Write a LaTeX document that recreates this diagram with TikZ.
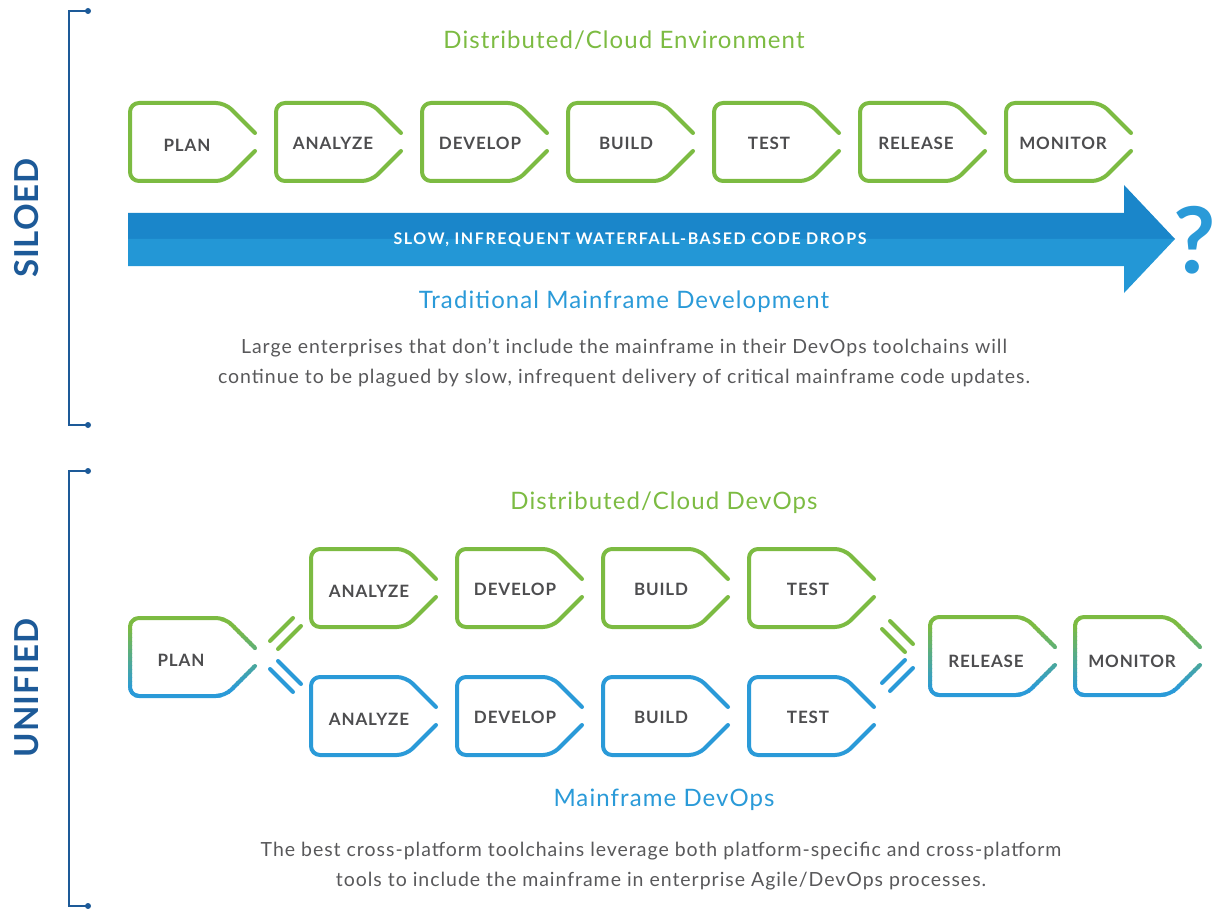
\documentclass[tikz,border=0pt]{standalone}
\usepackage{fontspec}
\setmainfont{Lato}
\newfontfamily\headfont[LetterSpace=4.5]{Lato}
\newfontfamily\parafont[LetterSpace=5]{Lato}
\newfontfamily\lblfont[LetterSpace=5]{Lato}
\newfontfamily\arrfont[LetterSpace=10]{Lato}
\newfontfamily\sidefont[LetterSpace=3]{Lato}
\definecolor{grn}{HTML}{7CBB42}
\definecolor{blu}{HTML}{2A9AD8}
\definecolor{arrdark}{HTML}{1A86CA}
\definecolor{arrlight}{HTML}{2397D6}
\definecolor{navy}{HTML}{1D5A98}
\definecolor{lblgray}{HTML}{4D4D4F}
\definecolor{txtgray}{HTML}{58585A}
\begin{document}
\begin{tikzpicture}[x=1pt,y=-1pt,
  tagpath/.style={line width=4pt, line cap=round, line join=round, rounded corners=9pt},
  pics/tag/.style={code={\draw[tagpath,draw=#1] (125,30) -- (95,0) -- (0,0) -- (0,78) -- (95,78) -- (125,48);}},
  pics/gtag/.style={code={
    \foreach \i in {0,...,21}{
      \pgfmathtruncatemacro\p{max(0,min(100,(72-(-5+\i*4+2))/62*100))}
      \begin{scope}
        \clip (-6,{-5+\i*4}) rectangle (136,{-5+(\i+1)*4+0.4});
        \draw[tagpath,draw=grn!\p!blu] (125,30) -- (95,0) -- (0,0) -- (0,78) -- (95,78) -- (125,48);
      \end{scope}}
  }},
  lbl/.style={text=lblgray, font=\lblfont\fontsize{17}{20}\selectfont\bfseries},
  head/.style={font=\headfont\fontsize{24}{28}\selectfont},
  para/.style={text=txtgray, font=\parafont\fontsize{19.5}{30}\selectfont, align=center},
  link/.style={line width=4pt, line cap=round},
  brk/.style={navy, line width=1.6pt},
  side/.style={text=navy, font=\sidefont\fontsize{33}{36}\selectfont\bfseries, rotate=90}
]
\useasboundingbox (0,0) rectangle (1214,909);

% brackets
\coordinate (b1a) at (88,11); \coordinate (b1b) at (88,425);
\coordinate (b2a) at (88,471); \coordinate (b2b) at (88,906);
\draw[brk] (b1a) -- (69,11) -- (69,425) -- (b1b);
\draw[brk] (b2a) -- (69,471) -- (69,906) -- (b2b);
\foreach \c in {b1a,b1b,b2a,b2b} \fill[navy] (\c) circle (3);
\node[side] (siloed) at (27,218) {SILOED};
\node[side] (unified) at (27,688) {UNIFIED};

% ---- top section
\node[head, text=grn] (envtitle) at (624,40) {Distributed/Cloud Environment};
\foreach \k in {0,...,6} \pic at ({130+146*\k},103) {tag=grn};
\node[lbl] (t1) at (187,145) {PLAN};
\node[lbl] (t2) at (333,143) {ANALYZE};
\node[lbl] (t3) at (480,143) {DEVELOP};
\node[lbl] (t4) at (626,143) {BUILD};
\node[lbl] (t5) at (769,143) {TEST};
\node[lbl] (t6) at (916,143) {RELEASE};
\node[lbl] (t7) at (1063,143) {MONITOR};

% arrow
\fill[arrdark] (128,213) -- (1124,213) -- (1124,185) -- (1175,239) -- (128,239) -- cycle;
\fill[arrlight] (128,239) -- (1175,239) -- (1124,293) -- (1124,266) -- (128,266) -- cycle;
\node[text=white, font=\arrfont\fontsize{16}{18}\selectfont\bfseries] (arrtxt) at (630,240) {SLOW, INFREQUENT WATERFALL-BASED CODE DROPS};
\node[text=blu, inner sep=0pt, font=\fontsize{92}{94}\selectfont\bfseries] (qm) at (1195,240) {?};

\node[head, text=blu] (tradtitle) at (624,302) {Traditional Mainframe Development};
\node[para] (para1) at (624,363) {Large enterprises that don’t include the mainframe in their DevOps toolchains will\\continue to be plagued by slow, infrequent delivery of critical mainframe code updates.};

% ---- bottom section
\node[head, text=grn] (devtitle) at (664,503) {Distributed/Cloud DevOps};
\pic at (130,618) {gtag};
\foreach \k in {0,...,3} \pic at ({311+146*\k},549) {tag=grn};
\foreach \k in {0,...,3} \pic at ({311+146*\k},677) {tag=blu};
\pic at (930,617) {gtag};
\pic at (1075,617) {gtag};

\node[lbl] (u1) at (181,660) {PLAN};
\node[lbl] (ug2) at (369,591) {ANALYZE};
\node[lbl] (ug3) at (515,589) {DEVELOP};
\node[lbl] (ug4) at (661,589) {BUILD};
\node[lbl] (ug5) at (808,589) {TEST};
\node[lbl] (ub2) at (369,719) {ANALYZE};
\node[lbl] (ub3) at (515,717) {DEVELOP};
\node[lbl] (ub4) at (661,717) {BUILD};
\node[lbl] (ub5) at (808,717) {TEST};
\node[lbl] (u6) at (986,661) {RELEASE};
\node[lbl] (u7) at (1132,661) {MONITOR};

% double links
\coordinate (g1a) at (270,641); \coordinate (g1b) at (293,618);
\coordinate (g2a) at (278,649); \coordinate (g2b) at (301,626);
\coordinate (h1a) at (270,669); \coordinate (h1b) at (293,692);
\coordinate (h2a) at (278,661); \coordinate (h2b) at (301,684);
\draw[link, grn] (g1a) -- (g1b);
\draw[link, grn] (g2a) -- (g2b);
\draw[link, blu] (h1a) -- (h1b);
\draw[link, blu] (h2a) -- (h2b);
\coordinate (r1a) at (882,629); \coordinate (r1b) at (905,652);
\coordinate (r2a) at (890,621); \coordinate (r2b) at (913,644);
\coordinate (s1a) at (882,683); \coordinate (s1b) at (905,660);
\coordinate (s2a) at (890,691); \coordinate (s2b) at (913,668);
\draw[link, grn] (r1a) -- (r1b);
\draw[link, grn] (r2a) -- (r2b);
\draw[link, blu] (s1a) -- (s1b);
\draw[link, blu] (s2a) -- (s2b);

\node[head, text=blu] (mftitle) at (664,800) {Mainframe DevOps};
\node[para] (para2) at (661,866) {The best cross-platform toolchains leverage both platform-specific and cross-platform\\tools to include the mainframe in enterprise Agile/DevOps processes.};
\end{tikzpicture}
\end{document}
